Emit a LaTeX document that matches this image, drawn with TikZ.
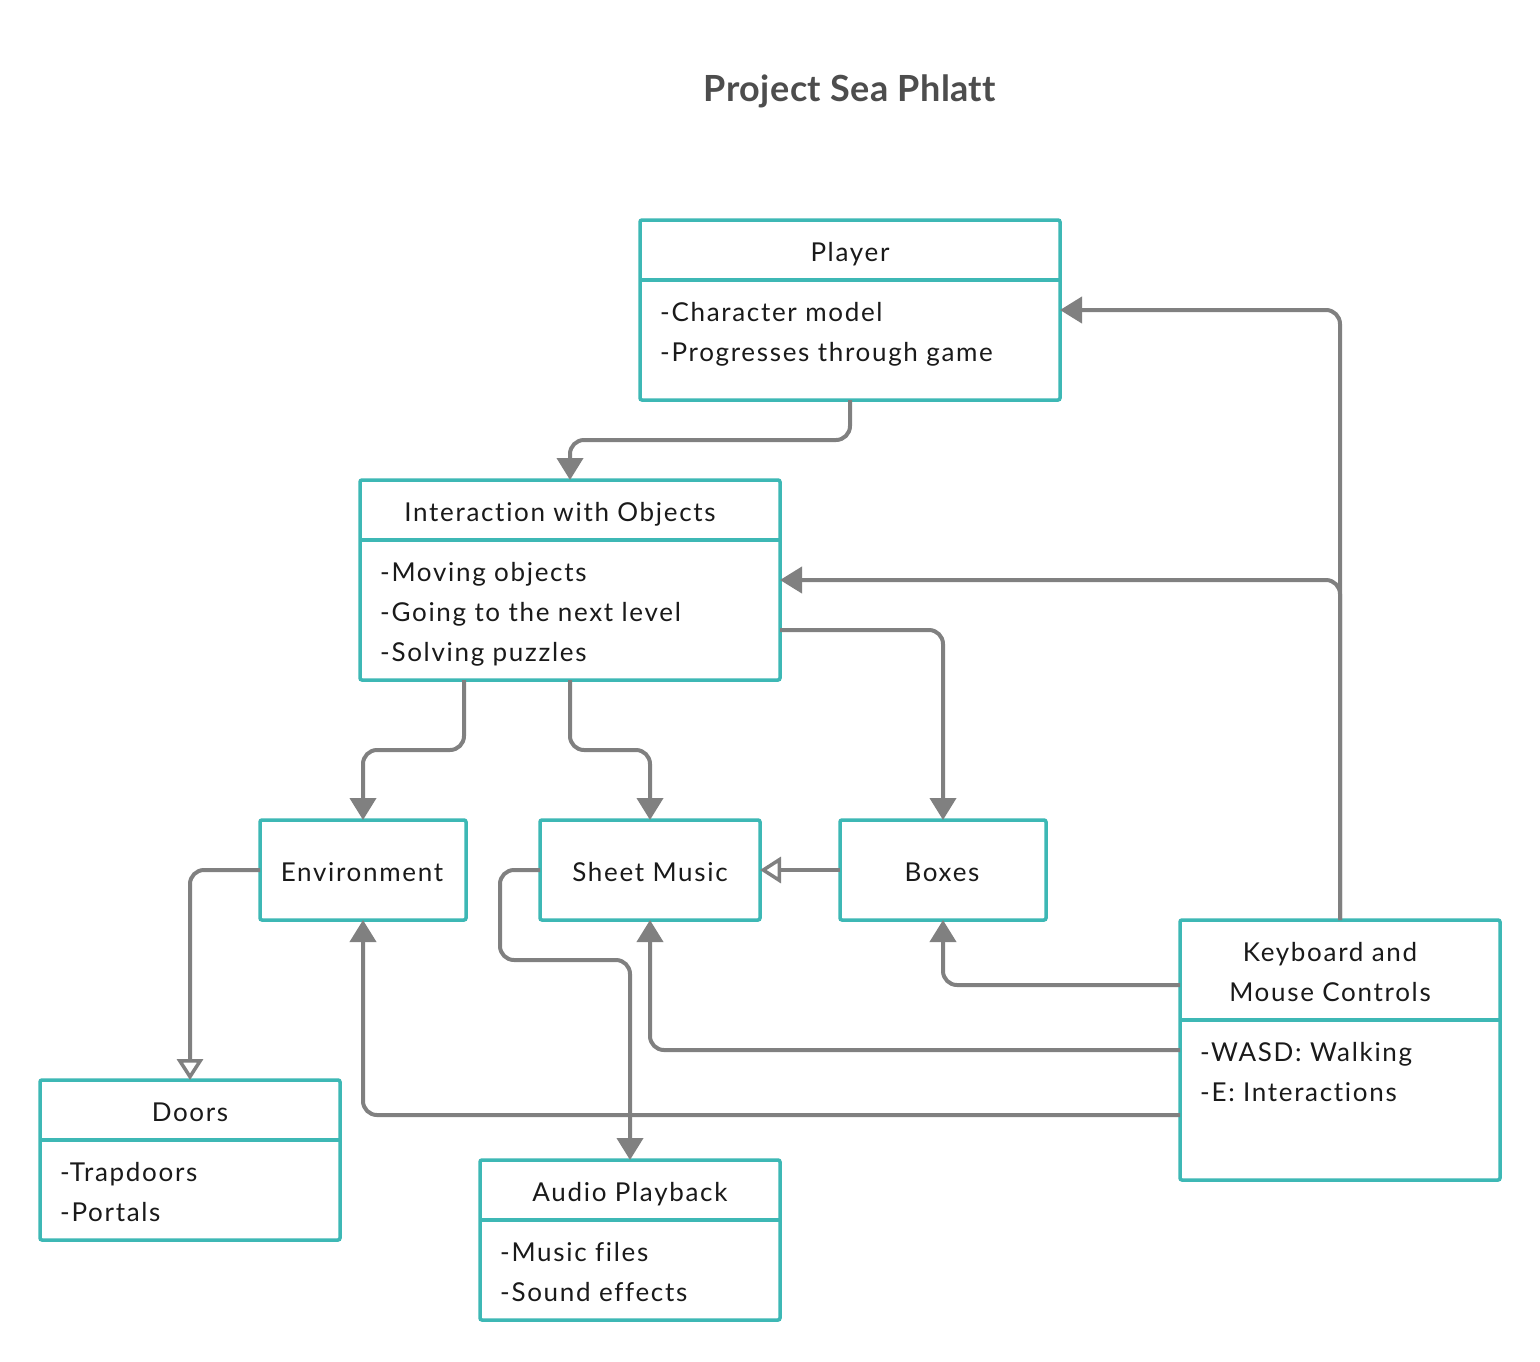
\documentclass[tikz,border=0pt]{standalone}
\usepackage{fontspec}
\setmainfont{Lato}[Ligatures={NoCommon}]
\newfontfamily\bodyfont{Lato}[LetterSpace=6.5,Ligatures={NoCommon},RawFeature={-liga;-dlig;-clig}]
\newfontfamily\headfont{Lato}[LetterSpace=1.2,Ligatures={NoCommon},RawFeature={-liga;-dlig;-clig}]
\usetikzlibrary{arrows.meta}
\definecolor{tealc}{HTML}{3DB8B5}
\definecolor{connc}{HTML}{808080}
\definecolor{titlec}{HTML}{4D4D4D}
\definecolor{txtc}{HTML}{1A1A1A}
\tikzset{
  box/.style={draw=tealc, line width=3.5pt, rounded corners=2pt, inner sep=0pt, outer sep=0pt, fill=white},
  divider/.style={draw=tealc, line width=3.5pt},
  conn/.style={draw=connc, line width=4pt, rounded corners=14pt, -{Triangle[length=22pt,width=26pt]}},
  connopen/.style={draw=connc, line width=4pt, rounded corners=14pt, -{Triangle[open,length=21pt,width=26pt,line width=3.5pt]}},
  hd/.style={font=\bodyfont\fontsize{26}{30}\selectfont, text=txtc, anchor=base, inner sep=0pt},
  ln/.style={font=\bodyfont\fontsize{26}{30}\selectfont, text=txtc, anchor=base west, inner sep=0pt},
}
\begin{document}
\begin{tikzpicture}[x=1pt,y=-1pt]
\fill[white] (0,0) rectangle (1540,1361);
\useasboundingbox (0,0) rectangle (1540,1361);

% title
\node[font=\headfont\fontsize{36}{40}\selectfont\bfseries, text=titlec, anchor=base, inner sep=0pt] (title) at (850,101) {Project Sea Phlatt};

% boxes
\node[box, minimum width=420pt, minimum height=180pt] (player) at (850,310) {};
\node[box, minimum width=420pt, minimum height=200pt] (inter) at (570,580) {};
\node[box, minimum width=206pt, minimum height=100pt] (env) at (363,870) {};
\node[box, minimum width=220pt, minimum height=100pt] (sheet) at (650,870) {};
\node[box, minimum width=206pt, minimum height=100pt] (boxes) at (943,870) {};
\node[box, minimum width=320pt, minimum height=260pt] (keys) at (1340,1050) {};
\node[box, minimum width=300pt, minimum height=160pt] (doors) at (190,1160) {};
\node[box, minimum width=300pt, minimum height=160pt] (audio) at (630,1240) {};

% dividers
\draw[divider] (640,280) -- (1060,280);
\draw[divider] (360,540) -- (780,540);
\draw[divider] (1180,1020) -- (1500,1020);
\draw[divider] (40,1140) -- (340,1140);
\draw[divider] (480,1220) -- (780,1220);

% texts
\node[hd] (tplayer) at (850,261) {Player};
\node[ln] (p1) at (660,321) {-Character model};
\node[ln] (p2) at (660,361) {-Progresses through game};

\node[hd] (tinter) at (560,521) {Interaction with Objects};
\node[ln] (i1) at (380,581) {-Moving objects};
\node[ln] (i2) at (380,621) {-Going to the next level};
\node[ln] (i3) at (380,661) {-Solving puzzles};

\node[hd] (tenv) at (362,881) {Environment};
\node[hd] (tsheet) at (650,881) {Sheet Music};
\node[hd] (tboxes) at (942,881) {Boxes};

\node[hd] (tkeys1) at (1330,961) {Keyboard and};
\node[hd] (tkeys2) at (1330,1001) {Mouse Controls};
\node[ln] (k1) at (1200,1061) {-WASD: Walking};
\node[ln] (k2) at (1200,1101) {-E: Interactions};

\node[hd] (tdoors) at (190,1121) {Doors};
\node[ln] (d1) at (60,1181) {-Trapdoors};
\node[ln] (d2) at (60,1221) {-Portals};

\node[hd] (taudio) at (630,1201) {Audio Playback};
\node[ln] (a1) at (500,1261) {-Music files};
\node[ln] (a2) at (500,1301) {-Sound effects};

% connectors
\draw[conn] (player.south) -- ++(0,40) -| (inter.north);
\draw[conn] (keys.north) |- (player.east);
\draw[conn] (keys.north) |- (inter.east);
\draw[conn] ([yshift=-50pt]inter.east) -| (boxes.north);
\draw[conn] ([xshift=-106pt]inter.south) -- ++(0,70) -| (env.north);
\draw[conn] (inter.south) -- ++(0,70) -| (sheet.north);
\draw[connopen] (boxes.west) -- (sheet.east);
\draw[connopen] (env.west) -| (doors.north);
\draw[conn] (sheet.west) -- ++(-40,0) -- ++(0,90) -| (audio.north);
\draw[conn] ([yshift=65pt]keys.west) -| (boxes.south);
\draw[conn] (keys.west) -| (sheet.south);
\draw[conn] ([yshift=-65pt]keys.west) -| (env.south);
\end{tikzpicture}
\end{document}
